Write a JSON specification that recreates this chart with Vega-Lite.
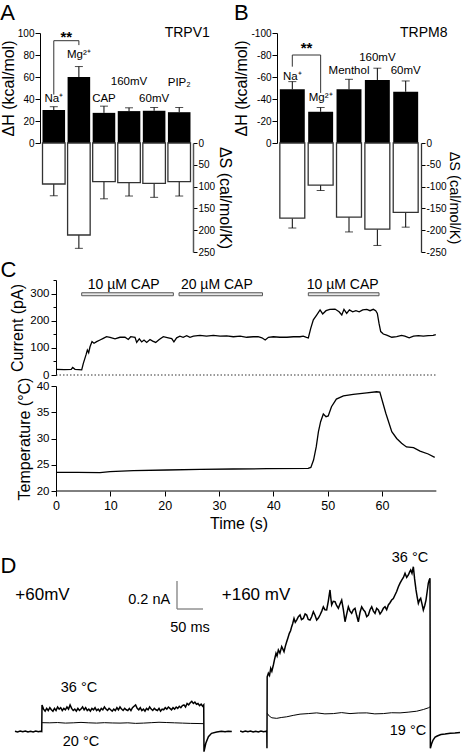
{
"$schema": "https://vega.github.io/schema/vega-lite/v6.json",
"padding": {"left": 0, "top": 2, "right": 0, "bottom": 0},
"config": {
  "font": "Liberation Sans",
  "view": {"stroke": null},
  "axis": {"grid": false, "domainColor": "black", "tickColor": "black", "labelColor": "black", "titleColor": "black", "titleFontWeight": "normal", "labelFontSize": 10, "titleFontSize": 16, "tickSize": 5, "labelPadding": 1, "titlePadding": 1, "labelFlush": false, "labelOverlap": false, "tickCount": 20},
  "title": {"fontSize": 22, "fontWeight": "normal", "anchor": "start", "frame": "bounds", "color": "black"},
  "text": {"color": "black"}
},
"datasets": {
  "tv": [
    {"cond": "Na", "dH": 30, "dHe": 33, "dS": 94, "dSe": 121},
    {"cond": "Mg", "dH": 60, "dHe": 69.5, "dS": 211, "dSe": 241.6},
    {"cond": "CAP", "dH": 27.4, "dHe": 33.5, "dS": 88.7, "dSe": 128},
    {"cond": "160mV", "dH": 29, "dHe": 32, "dS": 91, "dSe": 121.6},
    {"cond": "60mV", "dH": 29.3, "dHe": 32.3, "dS": 92.5, "dSe": 124.6},
    {"cond": "PIP2", "dH": 28, "dHe": 32.3, "dS": 88.7, "dSe": 121.6}
  ],
  "tvl": [
    {"cond": "Na", "ly": 40, "txt": "Na⁺"},
    {"cond": "Mg", "ly": 80, "txt": "Mg²⁺"},
    {"cond": "CAP", "ly": 40, "txt": "CAP"},
    {"cond": "160mV", "ly": 55.5, "txt": "160mV"},
    {"cond": "60mV", "ly": 40, "txt": "60mV"},
    {"cond": "PIP2", "ly": 54.5, "txt": "PIP₂"}
  ],
  "tvb": [
    {"c1": "Na", "c2": "Mg", "y1": 93, "y2": 93},
    {"c1": "Na", "c2": "Na", "y1": 93, "y2": 44},
    {"c1": "Mg", "c2": "Mg", "y1": 93, "y2": 89}
  ],
  "tm": [
    {"cond": "Na", "dH": -48.8, "dHe": -55.8, "dS": -172.5, "dSe": -195},
    {"cond": "Mg", "dH": -28.4, "dHe": -32.3, "dS": -96.5, "dSe": -109},
    {"cond": "Menthol", "dH": -48.8, "dHe": -57.9, "dS": -170, "dSe": -204},
    {"cond": "160mV", "dH": -57.3, "dHe": -68, "dS": -197.6, "dSe": -235},
    {"cond": "60mV", "dH": -46.6, "dHe": -56.4, "dS": -159, "dSe": -193}
  ],
  "tml": [
    {"cond": "Na", "ly": -60.3, "txt": "Na⁺"},
    {"cond": "Mg", "ly": -41, "txt": "Mg²⁺"},
    {"cond": "Menthol", "ly": -65.7, "txt": "Menthol"},
    {"cond": "160mV", "ly": -77, "txt": "160mV"},
    {"cond": "60mV", "ly": -65.5, "txt": "60mV"}
  ],
  "tmb": [
    {"c1": "Na", "c2": "Mg", "y1": -80, "y2": -80},
    {"c1": "Na", "c2": "Na", "y1": -80, "y2": -69.4},
    {"c1": "Mg", "c2": "Mg", "y1": -80, "y2": -45.5}
  ],
  "cur": [
    {"t": 0.1, "I": 21}, {"t": 1.5, "I": 20}, {"t": 2.8, "I": 21}, {"t": 3.07, "I": 28}, {"t": 3.5, "I": 21}, {"t": 4.2, "I": 20}, {"t": 4.73, "I": 19},
    {"t": 5.03, "I": 43}, {"t": 5.52, "I": 74}, {"t": 5.77, "I": 92}, {"t": 6.01, "I": 82}, {"t": 6.26, "I": 104}, {"t": 6.63, "I": 123}, {"t": 6.99, "I": 117},
    {"t": 7.48, "I": 123}, {"t": 8.1, "I": 129}, {"t": 8.7, "I": 135}, {"t": 9.3, "I": 141}, {"t": 9.94, "I": 139}, {"t": 10.86, "I": 133}, {"t": 11.78, "I": 139},
    {"t": 12.7, "I": 139}, {"t": 13.3, "I": 131}, {"t": 13.75, "I": 141}, {"t": 14.54, "I": 139}, {"t": 14.85, "I": 120}, {"t": 15.33, "I": 133}, {"t": 15.77, "I": 122},
    {"t": 16.2, "I": 129}, {"t": 16.69, "I": 120}, {"t": 17.3, "I": 131}, {"t": 17.79, "I": 125}, {"t": 18.35, "I": 120}, {"t": 19.0, "I": 131}, {"t": 19.75, "I": 141},
    {"t": 20.67, "I": 137}, {"t": 21.3, "I": 134}, {"t": 21.7, "I": 122}, {"t": 22.2, "I": 137}, {"t": 22.8, "I": 143}, {"t": 23.4, "I": 139}, {"t": 24.05, "I": 145},
    {"t": 24.66, "I": 139}, {"t": 25.3, "I": 143}, {"t": 26.5, "I": 146}, {"t": 27.7, "I": 143}, {"t": 28.96, "I": 146}, {"t": 30.2, "I": 143}, {"t": 31.4, "I": 144},
    {"t": 32.64, "I": 141}, {"t": 33.9, "I": 143}, {"t": 35.1, "I": 139}, {"t": 36.3, "I": 141}, {"t": 37.2, "I": 141}, {"t": 37.9, "I": 137}, {"t": 38.5, "I": 129},
    {"t": 39.1, "I": 139}, {"t": 40.0, "I": 141}, {"t": 41.2, "I": 139}, {"t": 42.5, "I": 139}, {"t": 43.7, "I": 141}, {"t": 44.9, "I": 141}, {"t": 45.5, "I": 143},
    {"t": 46.1, "I": 139}, {"t": 46.44, "I": 137}, {"t": 46.88, "I": 172}, {"t": 47.36, "I": 203}, {"t": 47.97, "I": 221}, {"t": 48.6, "I": 240}, {"t": 49.08, "I": 225},
    {"t": 49.7, "I": 237}, {"t": 50.4, "I": 242}, {"t": 51.35, "I": 243}, {"t": 52.1, "I": 233}, {"t": 52.6, "I": 221}, {"t": 53.0, "I": 242}, {"t": 53.5, "I": 227},
    {"t": 54.0, "I": 240}, {"t": 54.6, "I": 233}, {"t": 55.2, "I": 237}, {"t": 55.8, "I": 233}, {"t": 56.45, "I": 240}, {"t": 57.2, "I": 242}, {"t": 57.8, "I": 237},
    {"t": 58.4, "I": 242}, {"t": 58.84, "I": 237}, {"t": 59.14, "I": 227}, {"t": 59.45, "I": 190}, {"t": 59.76, "I": 160}, {"t": 60.24, "I": 151}, {"t": 60.86, "I": 147},
    {"t": 61.8, "I": 139}, {"t": 62.7, "I": 141}, {"t": 63.6, "I": 146}, {"t": 64.2, "I": 143}, {"t": 65.0, "I": 137}, {"t": 65.8, "I": 143}, {"t": 66.7, "I": 145},
    {"t": 67.6, "I": 143}, {"t": 68.5, "I": 145}, {"t": 69.4, "I": 146}, {"t": 69.9, "I": 149}
  ],
  "temp": [
    {"t": 0, "T": 23.56}, {"t": 4, "T": 23.55}, {"t": 8.1, "T": 23.5}, {"t": 9.94, "T": 23.68}, {"t": 14.24, "T": 23.87}, {"t": 20.4, "T": 24.0},
    {"t": 26.5, "T": 24.13}, {"t": 32.6, "T": 24.19}, {"t": 38.8, "T": 24.25}, {"t": 46.4, "T": 24.32}, {"t": 46.9, "T": 24.5}, {"t": 47.4, "T": 25.9},
    {"t": 47.9, "T": 28.44}, {"t": 48.3, "T": 31.3}, {"t": 48.7, "T": 33.2}, {"t": 49.2, "T": 34.67}, {"t": 49.7, "T": 34.16}, {"t": 50.1, "T": 34.3},
    {"t": 50.7, "T": 36.06}, {"t": 51.6, "T": 37.5}, {"t": 52.9, "T": 38.1}, {"t": 54.7, "T": 38.4}, {"t": 57.2, "T": 38.7}, {"t": 59.0, "T": 38.9},
    {"t": 59.6, "T": 38.85}, {"t": 60.1, "T": 37.0}, {"t": 60.7, "T": 34.8}, {"t": 61.8, "T": 31.3}, {"t": 62.7, "T": 30.0}, {"t": 63.6, "T": 29.1},
    {"t": 64.5, "T": 28.4}, {"t": 65.8, "T": 28.25}, {"t": 67.0, "T": 27.6}, {"t": 68.5, "T": 27.05}, {"t": 69.7, "T": 26.4}
  ],
  "stim": [
    {"s": 4.73, "e": 21.6, "mid": 12.46, "lab": "10 µM CAP"},
    {"s": 22.64, "e": 38.0, "mid": 29.6, "lab": "20 µM CAP"},
    {"s": 46.44, "e": 59.45, "mid": 52.76, "lab": "10 µM CAP"}
  ],
  "sbar": [
    {"t1": 259.6, "t2": 259.6, "I1": 1.075, "I2": 0.875},
    {"t1": 259.6, "t2": 309.6, "I1": 0.875, "I2": 0.875}
  ],
  "dthin": [
    {"s": "L20", "t": 0.2, "I": 0.063}, {"s": "L20", "t": 15, "I": 0.062}, {"s": "L20", "t": 30, "I": 0.064}, {"s": "L20", "t": 45, "I": 0.06},
    {"s": "L20", "t": 60, "I": 0.062}, {"s": "L20", "t": 75, "I": 0.065}, {"s": "L20", "t": 90, "I": 0.062}, {"s": "L20", "t": 105, "I": 0.06},
    {"s": "L20", "t": 120, "I": 0.063}, {"s": "L20", "t": 135, "I": 0.061}, {"s": "L20", "t": 150, "I": 0.06}, {"s": "L20", "t": 165, "I": 0.062},
    {"s": "L20", "t": 180, "I": 0.058}, {"s": "L20", "t": 195, "I": 0.06}, {"s": "L20", "t": 210, "I": 0.063}, {"s": "L20", "t": 225, "I": 0.066},
    {"s": "L20", "t": 240, "I": 0.064}, {"s": "L20", "t": 255, "I": 0.062}, {"s": "L20", "t": 270, "I": 0.06}, {"s": "L20", "t": 285, "I": 0.058},
    {"s": "L20", "t": 300, "I": 0.057}, {"s": "L20", "t": 311, "I": 0.056},
    {"s": "R19", "t": 433.2, "I": 0.13}, {"s": "R19", "t": 437, "I": 0.11}, {"s": "R19", "t": 442, "I": 0.098}, {"s": "R19", "t": 451.3, "I": 0.094},
    {"s": "R19", "t": 460, "I": 0.1}, {"s": "R19", "t": 470.5, "I": 0.105}, {"s": "R19", "t": 483, "I": 0.115}, {"s": "R19", "t": 496.2, "I": 0.124},
    {"s": "R19", "t": 512, "I": 0.128}, {"s": "R19", "t": 528.2, "I": 0.133}, {"s": "R19", "t": 544, "I": 0.126}, {"s": "R19", "t": 560.3, "I": 0.128},
    {"s": "R19", "t": 576, "I": 0.135}, {"s": "R19", "t": 592.3, "I": 0.128}, {"s": "R19", "t": 608, "I": 0.132}, {"s": "R19", "t": 624.4, "I": 0.133},
    {"s": "R19", "t": 640, "I": 0.126}, {"s": "R19", "t": 656.4, "I": 0.128}, {"s": "R19", "t": 672, "I": 0.134}, {"s": "R19", "t": 688.5, "I": 0.133},
    {"s": "R19", "t": 704, "I": 0.138}, {"s": "R19", "t": 720.5, "I": 0.145}, {"s": "R19", "t": 733.3, "I": 0.157}, {"s": "R19", "t": 742.9, "I": 0.169},
    {"s": "R19", "t": 746.1, "I": 0.176}
  ],
  "dthick": [
    {"s": "L36", "t": -52, "I": 0.002}, {"s": "L36", "t": -47, "I": -0.003}, {"s": "L36", "t": -42, "I": 0.003}, {"s": "L36", "t": -37, "I": -0.002},
    {"s": "L36", "t": -32, "I": 0.004}, {"s": "L36", "t": -27, "I": -0.003}, {"s": "L36", "t": -22, "I": 0.002}, {"s": "L36", "t": -17, "I": -0.004},
    {"s": "L36", "t": -12, "I": 0.003}, {"s": "L36", "t": -7, "I": -0.002}, {"s": "L36", "t": -3, "I": 0.002}, {"s": "L36", "t": -0.5, "I": 0.0},
    {"s": "L36", "t": 0, "I": 0.19}, {"s": "L36", "t": 3, "I": 0.16}, {"s": "L36", "t": 6, "I": 0.145}, {"s": "L36", "t": 9, "I": 0.165},
    {"s": "L36", "t": 12, "I": 0.15}, {"s": "L36", "t": 15, "I": 0.17}, {"s": "L36", "t": 18, "I": 0.155}, {"s": "L36", "t": 21, "I": 0.145},
    {"s": "L36", "t": 24, "I": 0.165}, {"s": "L36", "t": 27, "I": 0.15}, {"s": "L36", "t": 30, "I": 0.175}, {"s": "L36", "t": 33, "I": 0.16},
    {"s": "L36", "t": 36, "I": 0.17}, {"s": "L36", "t": 39, "I": 0.15}, {"s": "L36", "t": 42, "I": 0.165}, {"s": "L36", "t": 45, "I": 0.155},
    {"s": "L36", "t": 48, "I": 0.175}, {"s": "L36", "t": 51, "I": 0.16}, {"s": "L36", "t": 54, "I": 0.19}, {"s": "L36", "t": 57, "I": 0.165},
    {"s": "L36", "t": 60, "I": 0.15}, {"s": "L36", "t": 63, "I": 0.16}, {"s": "L36", "t": 66, "I": 0.145}, {"s": "L36", "t": 69, "I": 0.165},
    {"s": "L36", "t": 72, "I": 0.15}, {"s": "L36", "t": 75, "I": 0.16}, {"s": "L36", "t": 78, "I": 0.175}, {"s": "L36", "t": 81, "I": 0.155},
    {"s": "L36", "t": 84, "I": 0.17}, {"s": "L36", "t": 87, "I": 0.15}, {"s": "L36", "t": 90, "I": 0.16}, {"s": "L36", "t": 93, "I": 0.145},
    {"s": "L36", "t": 96, "I": 0.165}, {"s": "L36", "t": 99, "I": 0.155}, {"s": "L36", "t": 102, "I": 0.17}, {"s": "L36", "t": 105, "I": 0.15},
    {"s": "L36", "t": 108, "I": 0.16}, {"s": "L36", "t": 111, "I": 0.145}, {"s": "L36", "t": 114, "I": 0.165}, {"s": "L36", "t": 117, "I": 0.155},
    {"s": "L36", "t": 120, "I": 0.175}, {"s": "L36", "t": 123, "I": 0.16}, {"s": "L36", "t": 126, "I": 0.15}, {"s": "L36", "t": 129, "I": 0.165},
    {"s": "L36", "t": 132, "I": 0.155}, {"s": "L36", "t": 135, "I": 0.145}, {"s": "L36", "t": 138, "I": 0.16}, {"s": "L36", "t": 141, "I": 0.15},
    {"s": "L36", "t": 144, "I": 0.17}, {"s": "L36", "t": 147, "I": 0.155}, {"s": "L36", "t": 150, "I": 0.175}, {"s": "L36", "t": 153, "I": 0.16},
    {"s": "L36", "t": 156, "I": 0.15}, {"s": "L36", "t": 159, "I": 0.165}, {"s": "L36", "t": 162, "I": 0.155}, {"s": "L36", "t": 165, "I": 0.15},
    {"s": "L36", "t": 168, "I": 0.165}, {"s": "L36", "t": 171, "I": 0.15}, {"s": "L36", "t": 174, "I": 0.17}, {"s": "L36", "t": 177, "I": 0.18},
    {"s": "L36", "t": 180, "I": 0.19}, {"s": "L36", "t": 183, "I": 0.165}, {"s": "L36", "t": 186, "I": 0.155}, {"s": "L36", "t": 189, "I": 0.17},
    {"s": "L36", "t": 192, "I": 0.15}, {"s": "L36", "t": 195, "I": 0.16}, {"s": "L36", "t": 198, "I": 0.145}, {"s": "L36", "t": 201, "I": 0.165},
    {"s": "L36", "t": 204, "I": 0.155}, {"s": "L36", "t": 207, "I": 0.175}, {"s": "L36", "t": 210, "I": 0.16}, {"s": "L36", "t": 213, "I": 0.15},
    {"s": "L36", "t": 216, "I": 0.165}, {"s": "L36", "t": 219, "I": 0.155}, {"s": "L36", "t": 222, "I": 0.15}, {"s": "L36", "t": 225, "I": 0.165},
    {"s": "L36", "t": 228, "I": 0.145}, {"s": "L36", "t": 231, "I": 0.16}, {"s": "L36", "t": 234, "I": 0.155}, {"s": "L36", "t": 237, "I": 0.17},
    {"s": "L36", "t": 240, "I": 0.16}, {"s": "L36", "t": 243, "I": 0.175}, {"s": "L36", "t": 246, "I": 0.165}, {"s": "L36", "t": 249, "I": 0.155},
    {"s": "L36", "t": 252, "I": 0.17}, {"s": "L36", "t": 255, "I": 0.16}, {"s": "L36", "t": 258, "I": 0.175}, {"s": "L36", "t": 261, "I": 0.165},
    {"s": "L36", "t": 264, "I": 0.18}, {"s": "L36", "t": 267, "I": 0.17}, {"s": "L36", "t": 270, "I": 0.185}, {"s": "L36", "t": 273, "I": 0.19},
    {"s": "L36", "t": 276, "I": 0.175}, {"s": "L36", "t": 279, "I": 0.2}, {"s": "L36", "t": 282, "I": 0.19}, {"s": "L36", "t": 285, "I": 0.205},
    {"s": "L36", "t": 288, "I": 0.215}, {"s": "L36", "t": 291, "I": 0.2}, {"s": "L36", "t": 294, "I": 0.21}, {"s": "L36", "t": 297, "I": 0.195},
    {"s": "L36", "t": 300, "I": 0.2}, {"s": "L36", "t": 303, "I": 0.185}, {"s": "L36", "t": 306, "I": 0.195}, {"s": "L36", "t": 309, "I": 0.18},
    {"s": "L36", "t": 311, "I": 0.19}, {"s": "L36", "t": 311.5, "I": -0.144}, {"s": "L36", "t": 315, "I": -0.084}, {"s": "L36", "t": 320, "I": -0.037},
    {"s": "L36", "t": 326, "I": -0.013}, {"s": "L36", "t": 336, "I": -0.004}, {"s": "L36", "t": 345, "I": 0.002}, {"s": "L36", "t": 352, "I": -0.002},
    {"s": "L36", "t": 358, "I": 0.002}, {"s": "L36", "t": 365, "I": 0.0},
    {"s": "R36", "t": 381, "I": 0.003}, {"s": "R36", "t": 386, "I": -0.003}, {"s": "R36", "t": 391, "I": 0.004}, {"s": "R36", "t": 396, "I": -0.002},
    {"s": "R36", "t": 401, "I": 0.003}, {"s": "R36", "t": 406, "I": -0.004}, {"s": "R36", "t": 411, "I": 0.002}, {"s": "R36", "t": 416, "I": -0.003},
    {"s": "R36", "t": 421, "I": 0.004}, {"s": "R36", "t": 426, "I": -0.002}, {"s": "R36", "t": 431, "I": 0.002}, {"s": "R36", "t": 432.3, "I": 0.0},
    {"s": "R36", "t": 432.6, "I": -0.12}, {"s": "R36", "t": 433, "I": 0.39}, {"s": "R36", "t": 435.3, "I": 0.416}, {"s": "R36", "t": 437.5, "I": 0.4},
    {"s": "R36", "t": 439.8, "I": 0.451}, {"s": "R36", "t": 442, "I": 0.43}, {"s": "R36", "t": 444.9, "I": 0.475}, {"s": "R36", "t": 447.5, "I": 0.52},
    {"s": "R36", "t": 450, "I": 0.559}, {"s": "R36", "t": 452, "I": 0.54}, {"s": "R36", "t": 454.5, "I": 0.582}, {"s": "R36", "t": 457.5, "I": 0.56},
    {"s": "R36", "t": 460.9, "I": 0.606}, {"s": "R36", "t": 463, "I": 0.59}, {"s": "R36", "t": 465.4, "I": 0.57}, {"s": "R36", "t": 468, "I": 0.61},
    {"s": "R36", "t": 470.5, "I": 0.641}, {"s": "R36", "t": 473, "I": 0.67}, {"s": "R36", "t": 475.6, "I": 0.701}, {"s": "R36", "t": 478, "I": 0.72},
    {"s": "R36", "t": 480.1, "I": 0.749}, {"s": "R36", "t": 482, "I": 0.77}, {"s": "R36", "t": 484.6, "I": 0.808}, {"s": "R36", "t": 487, "I": 0.78},
    {"s": "R36", "t": 489.7, "I": 0.796}, {"s": "R36", "t": 493, "I": 0.82}, {"s": "R36", "t": 496.2, "I": 0.832}, {"s": "R36", "t": 499, "I": 0.8},
    {"s": "R36", "t": 502.6, "I": 0.808}, {"s": "R36", "t": 506, "I": 0.84}, {"s": "R36", "t": 509, "I": 0.832}, {"s": "R36", "t": 512, "I": 0.8},
    {"s": "R36", "t": 515.4, "I": 0.796}, {"s": "R36", "t": 518.5, "I": 0.82}, {"s": "R36", "t": 521.8, "I": 0.856}, {"s": "R36", "t": 525, "I": 0.83},
    {"s": "R36", "t": 528.2, "I": 0.796}, {"s": "R36", "t": 531.5, "I": 0.81}, {"s": "R36", "t": 534.6, "I": 0.832}, {"s": "R36", "t": 538, "I": 0.86},
    {"s": "R36", "t": 541, "I": 0.891}, {"s": "R36", "t": 544, "I": 0.87}, {"s": "R36", "t": 547.4, "I": 0.868}, {"s": "R36", "t": 550.5, "I": 0.93},
    {"s": "R36", "t": 553.8, "I": 1.011}, {"s": "R36", "t": 555.5, "I": 0.95}, {"s": "R36", "t": 557, "I": 0.904}, {"s": "R36", "t": 560, "I": 0.93},
    {"s": "R36", "t": 563.5, "I": 0.927}, {"s": "R36", "t": 566.5, "I": 0.9}, {"s": "R36", "t": 569.9, "I": 0.88}, {"s": "R36", "t": 573, "I": 0.91},
    {"s": "R36", "t": 576.3, "I": 0.939}, {"s": "R36", "t": 579.5, "I": 0.87}, {"s": "R36", "t": 582.7, "I": 0.784}, {"s": "R36", "t": 586, "I": 0.84},
    {"s": "R36", "t": 589.1, "I": 0.891}, {"s": "R36", "t": 592.3, "I": 0.86}, {"s": "R36", "t": 595.5, "I": 0.844}, {"s": "R36", "t": 598.7, "I": 0.87},
    {"s": "R36", "t": 601.9, "I": 0.88}, {"s": "R36", "t": 605, "I": 0.83}, {"s": "R36", "t": 608.3, "I": 0.784}, {"s": "R36", "t": 611.5, "I": 0.85},
    {"s": "R36", "t": 614.7, "I": 0.891}, {"s": "R36", "t": 618, "I": 0.87}, {"s": "R36", "t": 621.2, "I": 0.856}, {"s": "R36", "t": 624.4, "I": 0.82},
    {"s": "R36", "t": 627.6, "I": 0.832}, {"s": "R36", "t": 630.8, "I": 0.87}, {"s": "R36", "t": 634, "I": 0.891}, {"s": "R36", "t": 637.2, "I": 0.86},
    {"s": "R36", "t": 640.4, "I": 0.844}, {"s": "R36", "t": 643.6, "I": 0.88}, {"s": "R36", "t": 646.8, "I": 0.868}, {"s": "R36", "t": 650, "I": 0.84},
    {"s": "R36", "t": 653.2, "I": 0.856}, {"s": "R36", "t": 656.4, "I": 0.88}, {"s": "R36", "t": 659.6, "I": 0.891}, {"s": "R36", "t": 662.8, "I": 0.87},
    {"s": "R36", "t": 666, "I": 0.904}, {"s": "R36", "t": 669.2, "I": 0.92}, {"s": "R36", "t": 672.4, "I": 0.939}, {"s": "R36", "t": 675.6, "I": 0.95},
    {"s": "R36", "t": 678.8, "I": 0.975}, {"s": "R36", "t": 682, "I": 1.0}, {"s": "R36", "t": 685.3, "I": 1.034}, {"s": "R36", "t": 688.5, "I": 1.06},
    {"s": "R36", "t": 691.7, "I": 1.082}, {"s": "R36", "t": 695, "I": 1.1}, {"s": "R36", "t": 698.1, "I": 1.13}, {"s": "R36", "t": 701.3, "I": 1.1},
    {"s": "R36", "t": 704.5, "I": 1.118}, {"s": "R36", "t": 707, "I": 1.14}, {"s": "R36", "t": 709, "I": 1.154}, {"s": "R36", "t": 711.5, "I": 1.13},
    {"s": "R36", "t": 714.1, "I": 1.177}, {"s": "R36", "t": 716.5, "I": 1.09}, {"s": "R36", "t": 719.2, "I": 1.011}, {"s": "R36", "t": 721.5, "I": 0.96},
    {"s": "R36", "t": 723.7, "I": 0.916}, {"s": "R36", "t": 726, "I": 0.94}, {"s": "R36", "t": 728.2, "I": 0.951}, {"s": "R36", "t": 730.8, "I": 0.91},
    {"s": "R36", "t": 733.3, "I": 0.868}, {"s": "R36", "t": 736, "I": 0.9}, {"s": "R36", "t": 738.4, "I": 0.939}, {"s": "R36", "t": 740.7, "I": 1.0},
    {"s": "R36", "t": 742.9, "I": 1.059}, {"s": "R36", "t": 744.5, "I": 1.08}, {"s": "R36", "t": 746.1, "I": 1.094}, {"s": "R36", "t": 746.8, "I": -0.12},
    {"s": "R36", "t": 749, "I": -0.09}, {"s": "R36", "t": 752, "I": -0.061}, {"s": "R36", "t": 756, "I": -0.04}, {"s": "R36", "t": 760, "I": -0.032},
    {"s": "R36", "t": 767, "I": -0.022}, {"s": "R36", "t": 775, "I": -0.018}, {"s": "R36", "t": 785, "I": -0.012}, {"s": "R36", "t": 794, "I": -0.01},
    {"s": "R36", "t": 803.8, "I": -0.007}
  ],
  "dlabBig": [
    {"t": 1, "I": 0.975, "txt": "+60mV"},
    {"t": 411.5, "I": 0.975, "txt": "+160 mV"}
  ],
  "dlabSmall": [
    {"t": 206.2, "I": 0.939, "txt": "0.2 nA"},
    {"t": 284.6, "I": 0.739, "txt": "50 ms"},
    {"t": 707.7, "I": 1.239, "txt": "36 °C"},
    {"t": 71.2, "I": 0.311, "txt": "36 °C"},
    {"t": 75, "I": -0.075, "txt": "20 °C"},
    {"t": 703.8, "I": 0.004, "txt": "19 °C"}
  ]
},
"spacing": 2,
"vconcat": [
  {
    "hconcat": [
      {
        "vconcat": [
          {
            "width": 153, "height": 110,
            "title": {"text": "A", "offset": 1},
            "layer": [
              {"data": {"name": "tv"}, "mark": {"type": "bar", "color": "black"},
               "encoding": {
                 "x": {"field": "cond", "type": "nominal", "scale": {"domain": ["Na", "Mg", "CAP", "160mV", "60mV", "PIP2"], "paddingInner": 0.1, "paddingOuter": 0.1}, "axis": null},
                 "y": {"field": "dH", "type": "quantitative", "scale": {"domain": [0, 100], "nice": false, "zero": false}, "axis": {"values": [0, 20, 40, 60, 80, 100], "tickCount": 20, "title": "ΔH (kcal/mol)", "labelOverlap": false}}}},
              {"data": {"name": "tv"}, "mark": {"type": "rule", "color": "black"},
               "encoding": {"x": {"field": "cond", "type": "nominal"}, "y": {"field": "dH", "type": "quantitative"}, "y2": {"field": "dHe"}}},
              {"data": {"name": "tv"}, "mark": {"type": "tick", "color": "black", "size": 8, "thickness": 1},
               "encoding": {"x": {"field": "cond", "type": "nominal"}, "y": {"field": "dHe", "type": "quantitative"}}},
              {"data": {"name": "tvl"}, "mark": {"type": "text", "fontSize": 11.5, "baseline": "middle"},
               "encoding": {"x": {"field": "cond", "type": "nominal"}, "y": {"field": "ly", "type": "quantitative"}, "text": {"field": "txt"}}},
              {"data": {"values": [{"cond": "PIP2", "v": 100, "txt": "TRPV1"}]}, "mark": {"type": "text", "fontSize": 14, "baseline": "middle", "dx": 8},
               "encoding": {"x": {"field": "cond", "type": "nominal"}, "y": {"field": "v", "type": "quantitative"}, "text": {"field": "txt"}}},
              {"data": {"name": "tvb"}, "mark": {"type": "rule", "color": "#333", "strokeWidth": 1},
               "encoding": {"x": {"field": "c1", "type": "nominal"}, "x2": {"field": "c2"}, "y": {"field": "y1", "type": "quantitative"}, "y2": {"field": "y2"}}},
              {"data": {"values": [{"cond": "Na", "v": 96, "txt": "**"}]}, "mark": {"type": "text", "fontSize": 15, "fontWeight": "bold", "baseline": "middle", "dx": 12.5},
               "encoding": {"x": {"field": "cond", "type": "nominal"}, "y": {"field": "v", "type": "quantitative"}, "text": {"field": "txt"}}}
            ]
          },
          {
            "width": 153, "height": 109,
            "layer": [
              {"data": {"name": "tv"}, "mark": {"type": "rule", "color": "black"},
               "encoding": {
                 "x": {"field": "cond", "type": "nominal", "scale": {"domain": ["Na", "Mg", "CAP", "160mV", "60mV", "PIP2"], "paddingInner": 0.1, "paddingOuter": 0.1}, "axis": null},
                 "y": {"field": "dS", "type": "quantitative", "scale": {"domain": [0, 250], "reverse": true, "nice": false, "zero": false}, "axis": {"orient": "right", "values": [0, 50, 100, 150, 200, 250], "tickCount": 20, "title": "ΔS (cal/mol/K)", "tickSize": 4, "labelPadding": 1, "titlePadding": 2, "domainColor": "#555", "domainWidth": 1.5, "labelOverlap": false}},
                 "y2": {"field": "dSe"}}},
              {"data": {"name": "tv"}, "mark": {"type": "tick", "color": "black", "size": 8, "thickness": 1},
               "encoding": {"x": {"field": "cond", "type": "nominal"}, "y": {"field": "dSe", "type": "quantitative"}}},
              {"data": {"name": "tv"}, "mark": {"type": "bar", "fill": "white", "stroke": "#333", "strokeWidth": 1.3},
               "encoding": {"x": {"field": "cond", "type": "nominal"}, "y": {"field": "dS", "type": "quantitative"}}}
            ]
          }
        ],
        "spacing": 0,
        "bounds": "flush"
      },
      {
        "vconcat": [
          {
            "width": 144, "height": 110,
            "title": {"text": "B", "offset": 1},
            "layer": [
              {"data": {"name": "tm"}, "mark": {"type": "bar", "color": "black"},
               "encoding": {
                 "x": {"field": "cond", "type": "nominal", "scale": {"domain": ["Na", "Mg", "Menthol", "160mV", "60mV"], "paddingInner": 0.12, "paddingOuter": 0.1}, "axis": null},
                 "y": {"field": "dH", "type": "quantitative", "scale": {"domain": [-100, 0], "reverse": true, "nice": false, "zero": false}, "axis": {"values": [-100, -80, -60, -40, -20, 0], "tickCount": 20, "title": "ΔH (kcal/mol)", "labelOverlap": false, "labelExpr": "datum.value == 0 ? '0' : '-' + abs(datum.value)"}}}},
              {"data": {"name": "tm"}, "mark": {"type": "rule", "color": "black"},
               "encoding": {"x": {"field": "cond", "type": "nominal"}, "y": {"field": "dH", "type": "quantitative"}, "y2": {"field": "dHe"}}},
              {"data": {"name": "tm"}, "mark": {"type": "tick", "color": "black", "size": 8, "thickness": 1},
               "encoding": {"x": {"field": "cond", "type": "nominal"}, "y": {"field": "dHe", "type": "quantitative"}}},
              {"data": {"name": "tml"}, "mark": {"type": "text", "fontSize": 11.5, "baseline": "middle"},
               "encoding": {"x": {"field": "cond", "type": "nominal"}, "y": {"field": "ly", "type": "quantitative"}, "text": {"field": "txt"}}},
              {"data": {"values": [{"cond": "60mV", "v": -100, "txt": "TRPM8"}]}, "mark": {"type": "text", "fontSize": 14, "baseline": "middle", "dx": 18},
               "encoding": {"x": {"field": "cond", "type": "nominal"}, "y": {"field": "v", "type": "quantitative"}, "text": {"field": "txt"}}},
              {"data": {"name": "tmb"}, "mark": {"type": "rule", "color": "#333", "strokeWidth": 1},
               "encoding": {"x": {"field": "c1", "type": "nominal"}, "x2": {"field": "c2"}, "y": {"field": "y1", "type": "quantitative"}, "y2": {"field": "y2"}}},
              {"data": {"values": [{"cond": "Na", "v": -86, "txt": "**"}]}, "mark": {"type": "text", "fontSize": 15, "fontWeight": "bold", "baseline": "middle", "dx": 14.2},
               "encoding": {"x": {"field": "cond", "type": "nominal"}, "y": {"field": "v", "type": "quantitative"}, "text": {"field": "txt"}}}
            ]
          },
          {
            "width": 144, "height": 109,
            "layer": [
              {"data": {"name": "tm"}, "mark": {"type": "rule", "color": "black"},
               "encoding": {
                 "x": {"field": "cond", "type": "nominal", "scale": {"domain": ["Na", "Mg", "Menthol", "160mV", "60mV"], "paddingInner": 0.12, "paddingOuter": 0.1}, "axis": null},
                 "y": {"field": "dS", "type": "quantitative", "scale": {"domain": [-250, 0], "nice": false, "zero": false}, "axis": {"orient": "right", "values": [0, -50, -100, -150, -200, -250], "tickCount": 20, "title": "ΔS (cal/mol/K)", "titleFontSize": 14.5, "tickSize": 4, "labelPadding": 1, "titlePadding": 0, "domainColor": "#333", "domainWidth": 1.3, "labelOverlap": false, "labelExpr": "datum.value == 0 ? '0' : '-' + abs(datum.value)"}},
                 "y2": {"field": "dSe"}}},
              {"data": {"name": "tm"}, "mark": {"type": "tick", "color": "black", "size": 8, "thickness": 1},
               "encoding": {"x": {"field": "cond", "type": "nominal"}, "y": {"field": "dSe", "type": "quantitative"}}},
              {"data": {"name": "tm"}, "mark": {"type": "bar", "fill": "white", "stroke": "#333", "strokeWidth": 1.3},
               "encoding": {"x": {"field": "cond", "type": "nominal"}, "y": {"field": "dS", "type": "quantitative"}}}
            ]
          }
        ],
        "spacing": 0,
        "bounds": "flush"
      }
    ],
    "spacing": 0
  },
  {
    "vconcat": [
      {
        "width": 397, "height": 95,
        "resolve": {"axis": {"y": "independent"}},
        "layer": [
          {"data": {"name": "cur"}, "mark": {"type": "line", "color": "black", "strokeWidth": 1.3},
           "encoding": {
             "x": {"field": "t", "type": "quantitative", "scale": {"domain": [-2.945, 70.12], "nice": false, "zero": false}, "axis": null},
             "y": {"field": "I", "type": "quantitative", "scale": {"domain": [0, 350], "nice": false, "zero": false}, "axis": {"values": [0, 100, 200, 300], "tickCount": 20, "title": "Current (pA)", "offset": -16, "labelFontSize": 11.5, "labelPadding": 2, "titlePadding": 4, "labelOverlap": false}}}},
          {"data": {"values": [{}]}, "mark": {"type": "rule", "color": "#333", "strokeDash": [1.5, 2]},
           "encoding": {"x": {"datum": 0}, "x2": {"datum": 70}, "y": {"datum": 0, "axis": {"orient": "left", "values": [50, 150, 250, 350], "tickCount": 20, "labels": false, "domain": false, "tickSize": 3, "title": null, "offset": -16}}}},
          {"data": {"name": "stim"}, "mark": {"type": "rect", "fill": "#e8e8e8", "stroke": "#555", "strokeWidth": 1},
           "encoding": {"x": {"field": "s", "type": "quantitative"}, "x2": {"field": "e"}, "y": {"datum": 292, "axis": null}, "y2": {"datum": 303}}},
          {"data": {"name": "stim"}, "mark": {"type": "text", "fontSize": 14, "baseline": "middle"},
           "encoding": {"x": {"field": "mid", "type": "quantitative"}, "y": {"datum": 332, "axis": null}, "text": {"field": "lab"}}},
          {"data": {"values": [{"t": -10.22, "v": 361, "txt": "C"}]}, "mark": {"type": "text", "fontSize": 22, "align": "left", "baseline": "alphabetic"},
           "encoding": {"x": {"field": "t", "type": "quantitative"}, "y": {"field": "v", "type": "quantitative", "axis": null}, "text": {"field": "txt"}}}
        ]
      },
      {
        "width": 397, "height": 105,
        "layer": [
          {"data": {"name": "temp"}, "mark": {"type": "line", "color": "black", "strokeWidth": 1.3},
           "encoding": {
             "x": {"field": "t", "type": "quantitative", "scale": {"domain": [-2.945, 70.12], "nice": false, "zero": false}, "axis": {"values": [0, 10, 20, 30, 40, 50, 60], "tickCount": 20, "domain": false, "labelFontSize": 12.5, "labelPadding": 3, "title": "Time (s)", "titlePadding": 4, "labelOverlap": false}},
             "y": {"field": "T", "type": "quantitative", "scale": {"domain": [20, 40], "nice": false, "zero": false}, "axis": {"values": [20, 25, 30, 35, 40], "tickCount": 20, "title": "Temperature (°C)", "offset": -16, "labelFontSize": 11.5, "labelPadding": 2, "titlePadding": 4, "labelOverlap": false}}}},
          {"data": {"values": [{}]}, "mark": {"type": "rule", "color": "black"},
           "encoding": {"x": {"datum": 0}, "x2": {"datum": 70}, "y": {"datum": 20}}}
        ]
      },
      {
        "width": 420, "height": 250,
        "encoding": {
          "x": {"field": "t", "type": "quantitative", "scale": {"domain": [-3.85, 803.8], "nice": false, "zero": false}, "axis": null},
          "y": {"field": "I", "type": "quantitative", "scale": {"domain": [-0.1464, 1.6393], "nice": false, "zero": false}, "axis": null}
        },
        "layer": [
          {"data": {"name": "sbar"}, "mark": {"type": "rule", "color": "#808080", "strokeWidth": 1.3},
           "encoding": {"x": {"field": "t1", "type": "quantitative"}, "x2": {"field": "t2"}, "y": {"field": "I1", "type": "quantitative"}, "y2": {"field": "I2"}}},
          {"data": {"name": "dthin"}, "mark": {"type": "line", "color": "black", "strokeWidth": 1},
           "encoding": {"detail": {"field": "s"}}},
          {"data": {"name": "dthick"}, "mark": {"type": "line", "color": "black", "strokeWidth": 1.5},
           "encoding": {"detail": {"field": "s"}}},
          {"data": {"name": "dlabBig"}, "mark": {"type": "text", "fontSize": 17, "baseline": "middle"},
           "encoding": {"text": {"field": "txt"}}},
          {"data": {"name": "dlabSmall"}, "mark": {"type": "text", "fontSize": 14.5, "baseline": "middle"},
           "encoding": {"text": {"field": "txt"}}},
          {"data": {"values": [{"t": -79.8, "I": 1.132, "txt": "D"}]}, "mark": {"type": "text", "fontSize": 22, "align": "left", "baseline": "alphabetic"},
           "encoding": {"text": {"field": "txt"}}}
        ]
      }
    ],
    "spacing": 11,
    "bounds": "flush"
  }
]
}
